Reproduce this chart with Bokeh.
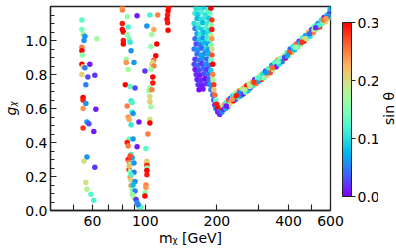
import math
from bokeh.plotting import figure
from bokeh.layouts import row
from bokeh.models import (ColumnDataSource, LinearColorMapper, ColorBar, FixedTicker,
                          SingleIntervalTicker, PrintfTickFormatter, Range1d)
from bokeh.embed import file_html
from bokeh.resources import INLINE

# ---------------- data ----------------
# low-mass strip near m ~ 55-62 GeV
strip1_m = [54.2, 54.2, 54.8, 55.8, 55.3, 62.6, 54.2, 54.2, 54.4, 54.2, 54.8, 55.8, 58.5, 54.2, 57.4, 61.4, 56.3,
            54.8, 54.8, 56.3, 54.8, 62.0, 56.9, 58.0, 54.8, 60.8, 56.9, 55.3, 61.4, 56.3, 56.9, 59.1, 60.8]
strip1_g = [1.12, 1.065, 1.035, 1.025, 1.0, 1.01, 0.96, 0.94, 0.915, 0.86, 0.845, 0.84, 0.86, 0.80, 0.785, 0.795, 0.74,
            0.665, 0.65, 0.63, 0.60, 0.595, 0.52, 0.51, 0.485, 0.465, 0.315, 0.29, 0.255, 0.165, 0.125, 0.095, 0.06]
strip1_s = [0.13, 0.14, 0.18, 0.06, 0.06, 0.17, 0.25, 0.30, 0.16, 0.30, 0.21, 0.05, 0.01, 0.21, 0.03, 0.02, 0.05,
            0.30, 0.29, 0.06, 0.24, 0.01, 0.06, 0.03, 0.28, 0.01, 0.06, 0.20, 0.02, 0.20, 0.18, 0.13, 0.12]

# strip near m ~ 80-95 GeV
strip2_m = [80.1, 80.1, 84.0, 92.4, 80.1, 84.8, 80.1, 80.9, 84.0, 85.6,
            86.4, 80.9, 80.9, 87.2, 83.2, 83.2, 89.7, 84.8, 99.7, 82.5,
            86.4, 90.6, 87.2, 88.1, 84.0, 88.1, 88.9, 84.8, 85.6, 94.1,
            87.2, 85.6, 88.9, 84.0, 84.8, 92.4, 87.2, 88.1, 84.8, 85.6,
            86.4, 89.7, 85.6, 86.4, 89.7, 86.4, 87.2, 90.6, 87.2, 88.1,
            90.6, 88.1, 89.7, 91.5, 92.4, 94.1, 96.0, 93.3, 85.6, 87.2,
            88.9, 86.4]
strip2_g = [1.18, 1.195, 1.14, 1.145, 1.10, 1.08, 1.065, 1.05, 1.035, 1.01,
            0.99, 1.0, 0.98, 0.94, 0.89, 0.87, 0.87, 0.83, 0.82, 0.74,
            0.73, 0.72, 0.645, 0.635, 0.615, 0.58, 0.57, 0.55, 0.535, 0.52,
            0.505, 0.42, 0.42, 0.40, 0.38, 0.375, 0.33, 0.31, 0.30, 0.285,
            0.27, 0.28, 0.24, 0.23, 0.225, 0.195, 0.18, 0.17, 0.145, 0.125,
            0.115, 0.095, 0.075, 0.065, 0.045, 0.025, 0.02, 0.035, 0.26, 0.21,
            0.15, 0.32]
strip2_s = [0.25, 0.24, 0.16, 0.01, 0.29, 0.12, 0.30, 0.30, 0.16, 0.15,
            0.11, 0.29, 0.30, 0.06, 0.17, 0.24, 0.06, 0.17, 0.02, 0.30,
            0.13, 0.03, 0.11, 0.12, 0.25, 0.12, 0.06, 0.24, 0.23, 0.01,
            0.11, 0.14, 0.06, 0.29, 0.25, 0.01, 0.12, 0.07, 0.29, 0.25,
            0.16, 0.06, 0.30, 0.16, 0.05, 0.24, 0.21, 0.06, 0.24, 0.16,
            0.05, 0.17, 0.18, 0.02, 0.06, 0.10, 0.13, 0.05, 0.22, 0.12,
            0.08, 0.27]

# strip near m ~ 100-113 GeV
strip3_m = [104.6, 112.8, 101.6, 108.6, 106.6, 111.8, 105.6, 110.7, 108.6, 107.6,
            106.6, 108.6, 105.6, 107.6, 107.6, 104.6, 103.6, 106.6, 104.6, 104.6,
            105.6, 104.6, 104.6, 102.6, 100.7, 101.6, 101.6, 101.6, 101.6, 101.6,
            101.6, 100.7, 100.7, 99.7, 99.7]
strip3_g = [1.15, 1.15, 1.085, 1.065, 1.035, 0.98, 0.965, 0.91, 0.885, 0.87,
            0.86, 0.85, 0.83, 0.785, 0.75, 0.72, 0.705, 0.71, 0.67, 0.64,
            0.61, 0.535, 0.515, 0.45, 0.365, 0.28, 0.29, 0.265, 0.25, 0.235,
            0.21, 0.15, 0.135, 0.105, 0.085]
strip3_s = [0.12, 0.25, 0.06, 0.23, 0.17, 0.30, 0.16, 0.30, 0.26, 0.21,
            0.20, 0.25, 0.17, 0.30, 0.29, 0.16, 0.17, 0.25, 0.20, 0.21,
            0.17, 0.20, 0.30, 0.25, 0.13, 0.24, 0.21, 0.29, 0.16, 0.30,
            0.29, 0.25, 0.24, 0.16, 0.30]

# short red strip near m ~ 125 GeV
strip4_m = [125.3, 124.7, 124.1, 123.5, 124.7, 125.5, 124.1]
strip4_g = [1.195, 1.175, 1.15, 1.125, 1.06, 1.2, 1.105]
strip4_s = [0.30, 0.30, 0.29, 0.30, 0.30, 0.29, 0.29]

# dense blob m ~ 160-205 GeV
blob_m = [163.6, 169.9, 176.5, 183.3, 188.7, 161.9, 166.7, 173.1, 179.9, 186.9,
          165.1, 171.5, 178.2, 185.1, 190.5, 160.5, 168.3, 174.8, 181.6, 188.7,
          161.9, 166.7, 173.1, 179.9, 186.9, 190.5, 165.1, 169.9, 176.5, 183.3, 188.7,
          161.9, 168.3, 174.8, 181.6, 186.9, 190.5, 163.6, 169.9, 176.5, 183.3, 188.7,
          160.5, 166.7, 173.1, 179.9, 185.1, 190.5, 165.1, 171.5, 178.2, 183.3, 190.5,
          161.9, 168.3, 174.8, 181.6, 188.7, 160.5, 166.7, 173.1, 179.9, 185.1, 192.3,
          161.9, 168.3, 174.8, 181.6, 188.7, 163.6, 169.9, 176.5, 183.3, 192.3,
          165.1, 171.5, 178.2, 185.1, 192.3, 166.7, 173.1, 179.9, 186.9, 194.1,
          168.3, 174.8, 188.7, 194.1, 192.3, 196.0, 194.1, 197.9, 196.0, 199.7,
          197.9, 201.6, 201.6, 205.5, 205.5]
blob_g = [1.19, 1.185, 1.195, 1.18, 1.19, 1.16, 1.155, 1.165, 1.15, 1.16,
          1.13, 1.125, 1.135, 1.13, 1.12, 1.10, 1.095, 1.105, 1.10, 1.09,
          1.07, 1.075, 1.065, 1.07, 1.06, 1.065, 1.04, 1.035, 1.045, 1.04, 1.03,
          1.01, 1.005, 1.015, 1.01, 1.0, 1.01, 0.98, 0.975, 0.985, 0.98, 0.97,
          0.95, 0.945, 0.955, 0.95, 0.945, 0.95, 0.92, 0.915, 0.925, 0.92, 0.915,
          0.89, 0.885, 0.895, 0.89, 0.885, 0.86, 0.855, 0.865, 0.86, 0.855, 0.86,
          0.83, 0.825, 0.835, 0.83, 0.825, 0.80, 0.795, 0.805, 0.80, 0.80,
          0.77, 0.765, 0.775, 0.77, 0.77, 0.74, 0.735, 0.745, 0.74, 0.74,
          0.71, 0.715, 0.71, 0.71, 0.68, 0.68, 0.65, 0.65, 0.62, 0.625,
          0.60, 0.60, 0.58, 0.585, 0.565]
blob_s = [0.10, 0.11, 0.09, 0.12, 0.30, 0.11, 0.09, 0.12, 0.10, 0.14,
          0.08, 0.10, 0.11, 0.09, 0.28, 0.10, 0.12, 0.08, 0.11, 0.16,
          0.05, 0.10, 0.09, 0.12, 0.10, 0.29, 0.07, 0.11, 0.08, 0.10, 0.18,
          0.04, 0.09, 0.06, 0.11, 0.13, 0.24, 0.03, 0.05, 0.08, 0.07, 0.15,
          0.05, 0.06, 0.04, 0.09, 0.06, 0.20, 0.04, 0.07, 0.05, 0.08, 0.27,
          0.02, 0.05, 0.06, 0.04, 0.14, 0.03, 0.04, 0.02, 0.06, 0.05, 0.30,
          0.01, 0.03, 0.04, 0.02, 0.09, 0.02, 0.01, 0.03, 0.05, 0.25,
          0.01, 0.02, 0.00, 0.04, 0.17, 0.02, 0.01, 0.02, 0.06, 0.28,
          0.00, 0.01, 0.05, 0.22, 0.04, 0.26, 0.03, 0.14, 0.02, 0.29,
          0.05, 0.30, 0.01, 0.06, 0.02]

# rising band m ~ 205-600 GeV
band_m = [206, 208, 210, 212, 214, 216, 218, 220, 222, 224, 226, 228, 230, 233, 235, 238, 240, 243, 246, 249,
          252, 255, 258, 261, 264, 267, 270, 273, 276, 280, 284, 288, 292, 296, 300, 304, 308, 312, 316, 320,
          325, 330, 335, 340, 345, 350, 355, 360, 365, 370, 376, 382, 388, 394, 400, 406, 412, 418, 424, 430,
          436, 443, 450, 457, 464, 471, 478, 485, 492, 500, 508, 516, 524, 532, 540, 548, 556, 564, 572, 580,
          588, 596, 592, 598, 232, 248, 262, 286, 302, 322, 342, 362, 385, 403, 427, 447, 468, 489, 512, 536,
          560, 584, 219, 241, 275, 395, 455, 520, 575]
band_g = [0.575, 0.605, 0.58, 0.615, 0.595, 0.625, 0.60, 0.64, 0.61, 0.65, 0.62, 0.66, 0.64, 0.675, 0.645, 0.685,
          0.655, 0.695, 0.665, 0.705, 0.675, 0.715, 0.685, 0.725, 0.695, 0.735, 0.705, 0.745, 0.72, 0.755, 0.735,
          0.77, 0.745, 0.78, 0.76, 0.795, 0.77, 0.805, 0.78, 0.82, 0.795, 0.835, 0.81, 0.855, 0.83, 0.87, 0.845,
          0.885, 0.86, 0.895, 0.875, 0.91, 0.895, 0.93, 0.91, 0.95, 0.93, 0.965, 0.945, 0.98, 0.96, 0.995, 0.975,
          1.015, 0.995, 1.03, 1.01, 1.05, 1.025, 1.065, 1.045, 1.085, 1.065, 1.10, 1.08, 1.12, 1.10, 1.135, 1.11,
          1.15, 1.13, 1.165, 1.14, 1.185, 0.655, 0.69, 0.71, 0.755, 0.78, 0.81, 0.84, 0.875, 0.90, 0.93, 0.96,
          0.985, 1.01, 1.04, 1.065, 1.09, 1.12, 1.14, 0.615, 0.675, 0.73, 0.91, 0.99, 1.075, 1.13]
band_s = [0.02, 0.29, 0.05, 0.16, 0.01, 0.24, 0.08, 0.12, 0.02, 0.27, 0.18, 0.04, 0.22, 0.10, 0.30, 0.14, 0.03, 0.20,
          0.12, 0.26, 0.06, 0.15, 0.01, 0.23, 0.13, 0.29, 0.09, 0.17, 0.04, 0.21, 0.11, 0.02, 0.25, 0.14, 0.07, 0.19,
          0.28, 0.10, 0.16, 0.03, 0.22, 0.12, 0.27, 0.06, 0.18, 0.13, 0.01, 0.24, 0.10, 0.15, 0.05, 0.20, 0.29, 0.12,
          0.17, 0.04, 0.23, 0.11, 0.08, 0.26, 0.14, 0.02, 0.19, 0.12, 0.30, 0.07, 0.16, 0.22, 0.10, 0.03, 0.25, 0.13,
          0.18, 0.05, 0.28, 0.11, 0.15, 0.01, 0.21, 0.09, 0.17, 0.03, 0.12, 0.08, 0.24, 0.05, 0.18, 0.28, 0.12, 0.06,
          0.26, 0.14, 0.02, 0.27, 0.16, 0.09, 0.20, 0.04, 0.19, 0.12, 0.26, 0.05, 0.01, 0.29, 0.19, 0.07, 0.28, 0.02,
          0.24]

x_major = [60, 100, 200, 400, 600]
x_minor = [50, 70, 80, 90, 300, 500]
cbar_ticks = [0.0, 0.1, 0.2, 0.3]

x_title = "mᵪ [GeV]"
y_title = "gᵪ"
cbar_title = "sin θ"

# ---------------- style ----------------
FONT = "DejaVu Sans"


def rainbow(n=256):
    cols = []
    for i in range(n):
        t = i / (n - 1)
        r = min(1.0, max(0.0, abs(2 * t - 0.5)))
        g = min(1.0, max(0.0, math.sin(math.pi * t)))
        b = min(1.0, max(0.0, math.cos(math.pi * t / 2)))
        cols.append("#%02x%02x%02x" % (round(r * 255), round(g * 255), round(b * 255)))
    return cols


palette = rainbow()

all_m = strip1_m + strip2_m + strip3_m + strip4_m + blob_m + band_m
all_g = strip1_g + strip2_g + strip3_g + strip4_g + blob_g + band_g
all_s = strip1_s + strip2_s + strip3_s + strip4_s + blob_s + band_s
src = ColumnDataSource(dict(m=all_m, g=all_g, s=all_s))

# main panel: frame spans x 45..330, y 6..210
p = figure(width=378, height=252, x_axis_type="log",
           x_range=Range1d(40, 600), y_range=Range1d(0, 1.2),
           output_backend="svg", toolbar_location=None,
           min_border_left=45, min_border_right=48, min_border_top=6, min_border_bottom=42)
p.grid.visible = False
p.outline_line_color = "#222222"
p.outline_line_width = 1.3
p.background_fill_color = "white"
p.border_fill_color = "white"

mapper = LinearColorMapper(palette=palette, low=0.0, high=0.3)
p.scatter("m", "g", source=src, size=5.5,
          fill_color={"field": "s", "transform": mapper}, line_color=None)

# axes
p.xaxis.ticker = FixedTicker(ticks=x_major, minor_ticks=x_minor)
p.xaxis.formatter = PrintfTickFormatter(format="%d")
p.yaxis.ticker = SingleIntervalTicker(interval=0.2, num_minor_ticks=4)
p.yaxis.formatter = PrintfTickFormatter(format="%.1f")
for ax in (p.xaxis[0], p.yaxis[0]):
    ax.axis_line_color = "#222222"
    ax.axis_line_width = 1.3
    ax.major_tick_out = 0
    ax.minor_tick_out = 0
    ax.major_tick_line_color = "#222222"
    ax.minor_tick_line_color = "#222222"
    ax.major_tick_line_width = 1.1
    ax.minor_tick_line_width = 1.1
    ax.major_label_text_font = FONT
    ax.major_label_text_font_size = "14px"
    ax.major_label_text_color = "black"
    ax.axis_label_text_font = FONT
    ax.axis_label_text_font_size = "14px"
    ax.axis_label_text_color = "black"
p.xaxis.major_tick_in = 6
p.xaxis.minor_tick_in = 6
p.xaxis.major_label_standoff = 5
p.xaxis.axis_label = x_title
p.xaxis.axis_label_text_font_style = "normal"
p.xaxis.axis_label_standoff = 1
p.yaxis.major_tick_in = 6
p.yaxis.minor_tick_in = 4
p.yaxis.major_label_standoff = 3
p.yaxis.axis_label = y_title
p.yaxis.axis_label_text_font_style = "italic"
p.yaxis.axis_label_standoff = 3

# colour bar
cb = ColorBar(color_mapper=mapper, ticker=FixedTicker(ticks=cbar_ticks),
              formatter=PrintfTickFormatter(format="%.1f"),
              width=9, height=174, location=(292, 14), padding=0, margin=0,
              bar_line_color="#222222", bar_line_width=1,
              major_tick_in=0, major_tick_out=4, major_tick_line_color="#222222",
              minor_tick_line_color=None, label_standoff=2,
              major_label_text_font=FONT, major_label_text_font_size="14px",
              major_label_text_color="black",
              background_fill_alpha=0, border_line_color=None)
p.add_layout(cb, "center")

# thin strip on the right that carries the colour-bar title (reads bottom to top)
p2 = figure(width=18, height=252, x_range=Range1d(0, 1), y_range=Range1d(0, 1),
            output_backend="svg", toolbar_location=None, x_axis_location=None,
            min_border_left=17, min_border_right=0, min_border_top=6, min_border_bottom=42)
p2.grid.visible = False
p2.outline_line_color = None
p2.background_fill_color = "white"
p2.border_fill_color = "white"
p2.yaxis.ticker = FixedTicker(ticks=[])
p2.yaxis.axis_line_color = None
p2.yaxis.major_tick_line_color = None
p2.yaxis.minor_tick_line_color = None
p2.yaxis.axis_label = cbar_title
p2.yaxis.axis_label_text_font = FONT
p2.yaxis.axis_label_text_font_size = "14px"
p2.yaxis.axis_label_text_font_style = "normal"
p2.yaxis.axis_label_text_color = "black"
p2.yaxis.axis_label_standoff = 0

layout = row(p, p2, spacing=0)
open("out.html", "w").write(file_html(layout, INLINE))
